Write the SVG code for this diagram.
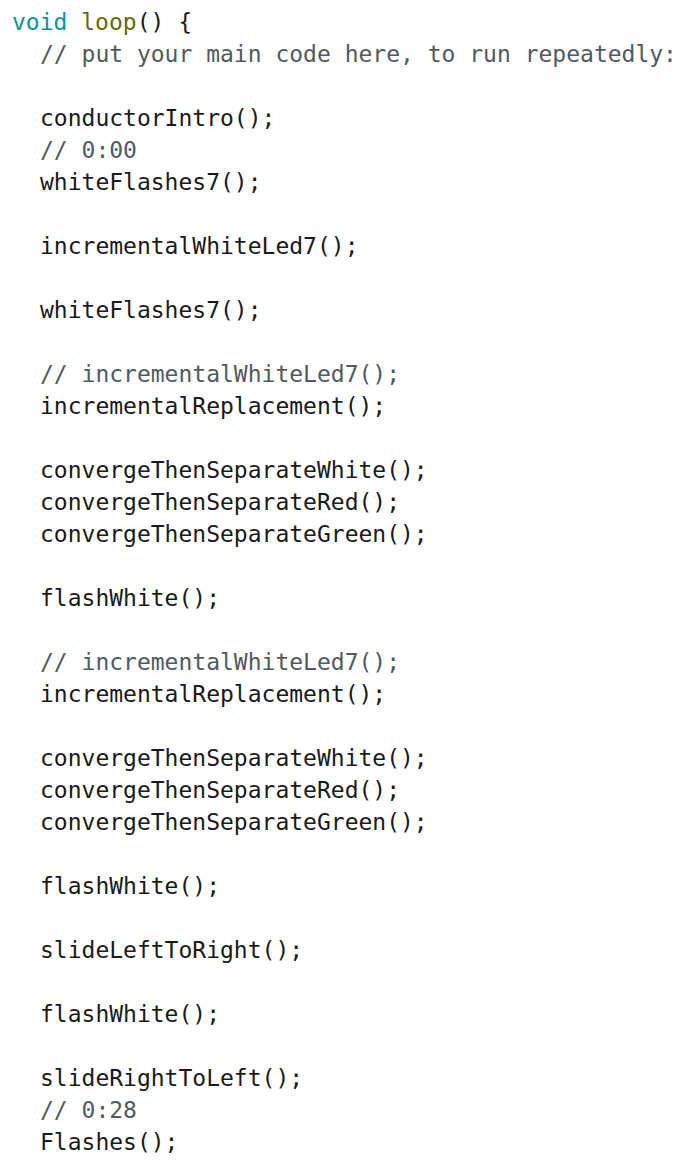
<svg xmlns="http://www.w3.org/2000/svg" width="688" height="1166" viewBox="0 0 688 1166">
<style>
text{font-family:"DejaVu Sans Mono","Liberation Mono",monospace;font-size:23px;fill:#1a1a1a;white-space:pre}
.c{fill:#505a5f}.k{fill:#00979c}.f{fill:#5e6d03}
</style>
<rect width="688" height="1166" fill="#fff"/>
<text x="12" y="30"><tspan class="k">void</tspan> <tspan class="f">loop</tspan>() {</text>
<text x="40" y="62" class="c">// put your main code here, to run repeatedly:</text>
<text x="40" y="126">conductorIntro();</text>
<text x="40" y="158" class="c">// 0:00</text>
<text x="40" y="190">whiteFlashes7();</text>
<text x="40" y="254">incrementalWhiteLed7();</text>
<text x="40" y="318">whiteFlashes7();</text>
<text x="40" y="382" class="c">// incrementalWhiteLed7();</text>
<text x="40" y="414">incrementalReplacement();</text>
<text x="40" y="478">convergeThenSeparateWhite();</text>
<text x="40" y="510">convergeThenSeparateRed();</text>
<text x="40" y="542">convergeThenSeparateGreen();</text>
<text x="40" y="606">flashWhite();</text>
<text x="40" y="670" class="c">// incrementalWhiteLed7();</text>
<text x="40" y="702">incrementalReplacement();</text>
<text x="40" y="766">convergeThenSeparateWhite();</text>
<text x="40" y="798">convergeThenSeparateRed();</text>
<text x="40" y="830">convergeThenSeparateGreen();</text>
<text x="40" y="894">flashWhite();</text>
<text x="40" y="958">slideLeftToRight();</text>
<text x="40" y="1022">flashWhite();</text>
<text x="40" y="1086">slideRightToLeft();</text>
<text x="40" y="1118" class="c">// 0:28</text>
<text x="40" y="1150">Flashes();</text>
</svg>
